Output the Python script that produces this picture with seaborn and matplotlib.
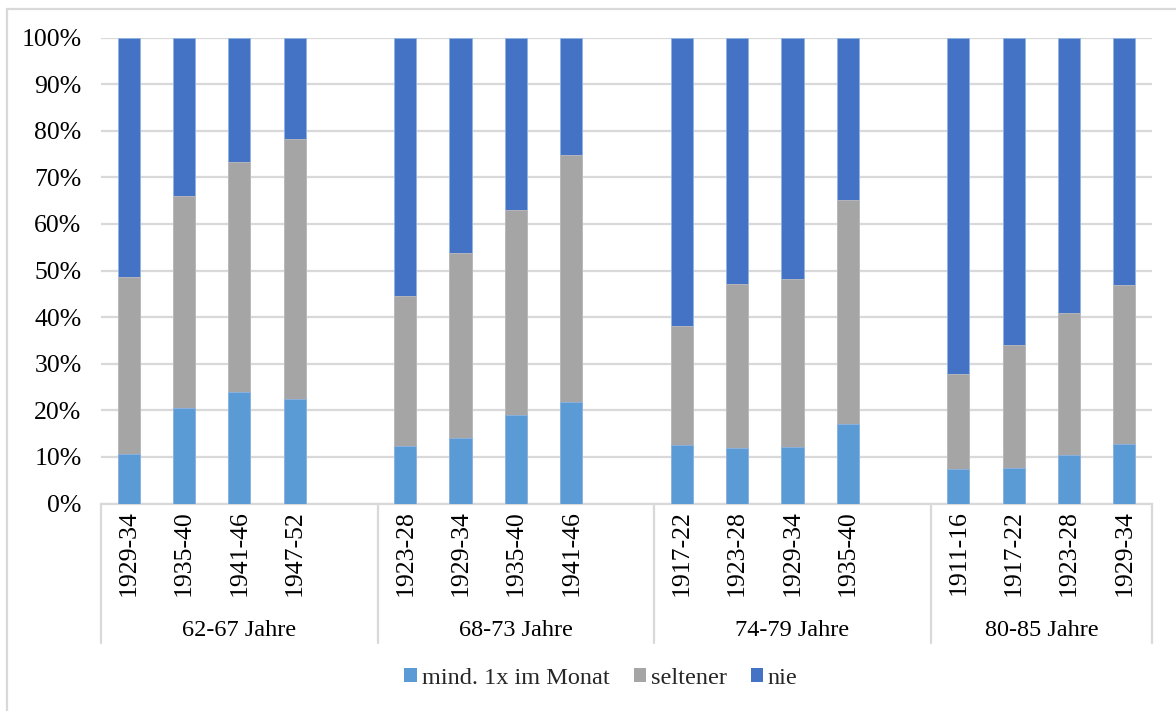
import matplotlib
matplotlib.use("Agg")
import matplotlib.pyplot as plt
import matplotlib.transforms as mtransforms
from matplotlib.patches import Rectangle, Patch
import numpy as np
import pandas as pd
import seaborn as sns

# Age groups and birth cohorts
age_groups = ["62-67 Jahre", "68-73 Jahre", "74-79 Jahre", "80-85 Jahre"]
cohorts = [
    ["1929-34", "1935-40", "1941-46", "1947-52"],
    ["1923-28", "1929-34", "1935-40", "1941-46"],
    ["1917-22", "1923-28", "1929-34", "1935-40"],
    ["1911-16", "1917-22", "1923-28", "1929-34"],
]

# Shares in percent per cohort (in group order)
mind_monat = [10.7, 20.5, 24.0, 22.5,
              12.4, 14.1, 19.0, 21.8,
              12.5, 11.9, 12.2, 17.0,
              7.4, 7.6, 10.4, 12.8]
seltener = [38.0, 45.4, 49.3, 55.7,
            32.2, 39.7, 44.0, 52.9,
            25.5, 35.1, 36.0, 48.1,
            20.4, 26.4, 30.5, 34.1]
nie = [51.3, 34.1, 26.7, 21.8,
       55.4, 46.2, 37.0, 25.3,
       62.0, 53.0, 51.8, 34.9,
       72.2, 66.0, 59.1, 53.1]

series_names = ["mind. 1x im Monat", "seltener", "nie"]
colors = {"mind. 1x im Monat": "#5B9BD5", "seltener": "#A5A5A5", "nie": "#4472C4"}

sns.set_theme(style="white")
plt.rcParams["font.family"] = ["Liberation Serif", "DejaVu Serif"]
FS = 18.5
FS_SMALL = 17.5

# Category slots: four bars per age group, one empty slot between groups
slot = []
labels = []
for g, group in enumerate(cohorts):
    for i, c in enumerate(group):
        slot.append(g * 5 + i)
        labels.append(c)

df = pd.DataFrame({
    "pos": slot,
    "mind": mind_monat,
    "selt": seltener,
    "nie": nie,
})
df["top1"] = df["mind"]
df["top2"] = df["mind"] + df["selt"]
df["top3"] = df["mind"] + df["selt"] + df["nie"]

fig = plt.figure(figsize=(11.76, 7.11), dpi=100)
ax = fig.add_axes([101 / 1176, 1 - 503.5 / 711, (1152 - 101) / 1176, 466 / 711])

# Stacked bars drawn as cumulative layers, back to front
for col, name in [("top3", "nie"), ("top2", "seltener"), ("top1", "mind. 1x im Monat")]:
    sns.barplot(data=df, x="pos", y=col, native_scale=True, width=0.4,
                color=colors[name], saturation=1, ax=ax, zorder=3,
                linewidth=0.6, edgecolor="#8FB4E3" if name != "seltener" else "#BDBDBD")

ax.set_xlim(-0.5, 18.5)
ax.set_ylim(0, 100)
ax.set_yticks(np.arange(0, 101, 10))
ax.set_yticklabels([f"{v}%" for v in range(0, 101, 10)], fontsize=FS, color="#000000")
ax.yaxis.grid(True, color="#D9D9D9", linewidth=1.6, zorder=0)
ax.xaxis.grid(False)
for s in ["top", "right", "left"]:
    ax.spines[s].set_visible(False)
ax.spines["bottom"].set_color("#D9D9D9")
ax.spines["bottom"].set_linewidth(1.6)
ax.tick_params(axis="y", length=0, pad=14)
ax.tick_params(axis="x", length=0, pad=5)
ax.set_xticks(slot)
ax.set_xticklabels(labels, rotation=90, fontsize=FS, color="#000000", va="top")
ax.set_xlabel("")
ax.set_ylabel("")

# Group separators and group labels below the axis
trans = mtransforms.blended_transform_factory(ax.transData, ax.transAxes)
sep_bottom = -(643 - 503.5) / 466
for x in [-0.5, 4.5, 9.5, 14.5, 18.5]:
    ax.plot([x, x], [0, sep_bottom], transform=trans, color="#D9D9D9",
            linewidth=1.6, clip_on=False, zorder=1)
label_y = -(630 - 503.5) / 466
for g, name in enumerate(age_groups):
    right = g * 5 + 4.5 if g < 3 else 18.5
    center = (g * 5 - 0.5 + right) / 2
    ax.text(center, label_y, name, transform=trans, ha="center", va="center",
            fontsize=FS_SMALL, color="#000000")

# Legend
handles = [Patch(facecolor=colors[n], edgecolor="none", label=n) for n in series_names]
fig.legend(handles=handles, loc="center", bbox_to_anchor=(601 / 1176, 1 - 678 / 711),
           ncol=3, frameon=False, fontsize=FS_SMALL, handlelength=0.5, handleheight=0.5,
           handletextpad=0.2, columnspacing=1.0)

# Chart area border
fig.patches.append(Rectangle((7 / 1176, -0.05), 1.2, 1 - 8.5 / 711 + 0.05,
                             transform=fig.transFigure, fill=False,
                             edgecolor="#D9D9D9", linewidth=1.6, zorder=0))

fig.savefig("out.png", dpi=100)
